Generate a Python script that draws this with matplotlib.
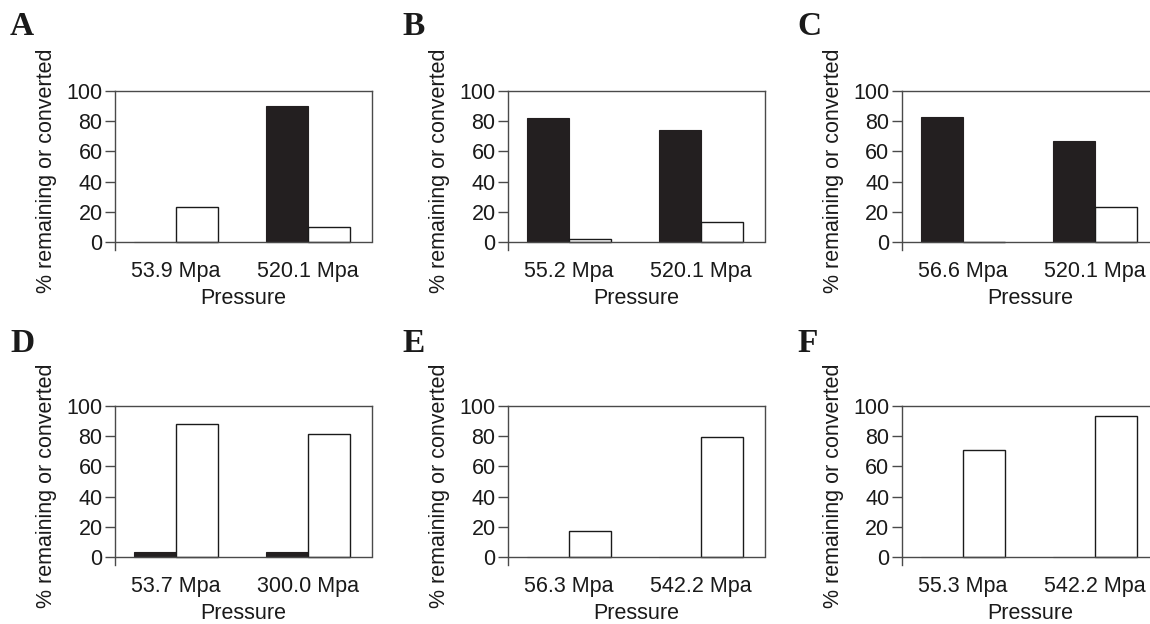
import matplotlib
matplotlib.use("Agg")
import matplotlib.pyplot as plt
import numpy as np

# ---- data ----
panel_letters = ["A", "B", "C", "D", "E", "F"]
pressure_labels = [
    ["53.9 Mpa", "520.1 Mpa"],
    ["55.2 Mpa", "520.1 Mpa"],
    ["56.6 Mpa", "520.1 Mpa"],
    ["53.7 Mpa", "300.0 Mpa"],
    ["56.3 Mpa", "542.2 Mpa"],
    ["55.3 Mpa", "542.2 Mpa"],
]
remaining = [  # black bars
    [0, 90],
    [82, 74],
    [83, 67],
    [3, 3],
    [0, 0],
    [0, 0],
]
converted = [  # white bars
    [23, 10],
    [2, 13],
    [0, 23],
    [88, 81.5],
    [17.5, 79.5],
    [71, 93.5],
]
yticks = [0, 20, 40, 60, 80, 100]
ylabel = "% remaining or converted"
xlabel = "Pressure"

# ---- layout (pixels) ----
W, H = 1150, 624
fig = plt.figure(figsize=(W / 100, H / 100), dpi=100)

ax_left = [115, 508, 902]
ax_top = [91, 406]
ax_w = 257
unit_px = 151 / 100.0
ymin = -5.5
ax_h = unit_px * (100 - ymin)
letter_x = [10, 402, 797]
letter_base = [35, 352]

black = "#231f20"
spine_c = "#4a4a4a"
txt_c = "#1a1a1a"
font = "Liberation Sans"
fs = 15.5

for i in range(6):
    r, c = divmod(i, 3)
    left = ax_left[c]
    top = ax_top[r]
    ax = fig.add_axes([left / W, (H - top - ax_h) / H, ax_w / W, ax_h / H])
    x = np.arange(2)
    bw = 0.32
    ax.bar(x - bw / 2, remaining[i], width=bw, color=black, edgecolor=black,
           linewidth=0.8, zorder=2)
    ax.bar(x + bw / 2, converted[i], width=bw, color="white", edgecolor="#1a1a1a",
           linewidth=1.0, zorder=2)
    ax.set_xlim(-0.462, -0.462 + ax_w / 132.0)
    ax.set_ylim(ymin, 100)
    ax.axhline(0, color=spine_c, linewidth=1.0, zorder=3)
    ax.spines["bottom"].set_visible(False)
    ax.spines["right"].set_bounds(0, 100)
    for s in ["left", "right", "top"]:
        ax.spines[s].set_color(spine_c)
        ax.spines[s].set_linewidth(1.0)
    ax.set_yticks(yticks)
    ax.set_yticklabels([str(t) for t in yticks], fontsize=fs, family=font,
                       color=txt_c)
    ax.tick_params(axis="y", length=7, width=1.0, color=spine_c, pad=2)
    ax.set_xticks(x)
    ax.set_xticklabels(pressure_labels[i], fontsize=fs, family=font,
                       color=txt_c)
    ax.tick_params(axis="x", length=0, pad=8)
    ax.set_xlabel(xlabel, fontsize=fs, family=font, color=txt_c, labelpad=4)
    ax.set_ylabel(ylabel, fontsize=fs, family=font, color=txt_c, labelpad=7)
    fig.text(letter_x[c] / W, 1 - letter_base[r] / H, panel_letters[i],
             fontsize=24, fontweight="bold", family="Liberation Serif",
             ha="left", va="baseline", color=txt_c)

fig.savefig("out.png", dpi=100)
